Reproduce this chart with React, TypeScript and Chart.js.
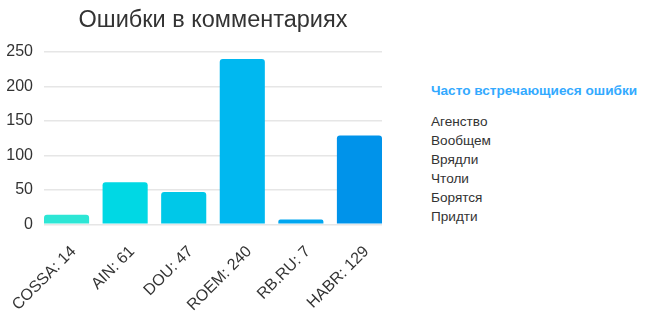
import React, { useEffect, useRef } from "react";
import { Chart, registerables } from "chart.js";

Chart.register(...registerables);

const TITLE = "Ошибки в комментариях";
const CATEGORIES = ["COSSA: 14", "AIN: 61", "DOU: 47", "ROEM: 240", "RB.RU: 7", "HABR: 129"];
const VALUES = [14, 61, 47, 240, 7, 129];
const COLORS = ["#2de6d5", "#00d8e4", "#00c8e8", "#00b8f0", "#00a6f0", "#0093ea"];
const Y_TICKS = [0, 50, 100, 150, 200, 250];
const PANEL_TITLE = "Часто встречающиеся ошибки";
const WORDS = ["Агенство", "Вообщем", "Врядли", "Чтоли", "Борятся", "Придти"];

const FONT = "'Liberation Sans', Arial, sans-serif";

const centeredTitle = {
  id: "centeredTitle",
  afterDraw(chart: any) {
    const { ctx, chartArea } = chart;
    ctx.save();
    ctx.fillStyle = "#333";
    ctx.font = `23.5px ${FONT}`;
    ctx.textAlign = "center";
    ctx.textBaseline = "alphabetic";
    ctx.fillText(TITLE, (chartArea.left + chartArea.right) / 2, 27);
    ctx.restore();
  },
};

export default function App() {
  const ref = useRef<HTMLCanvasElement | null>(null);

  useEffect(() => {
    if (!ref.current) return;
    const half = 0.385;
    const chart = new Chart(ref.current, {
      type: "bar",
      data: {
        datasets: [
          {
            data: VALUES.map((v, i) => ({ x: i, y: v })),
            backgroundColor: COLORS,
            borderRadius: 3,
            borderSkipped: "start",
            barPercentage: 1,
            categoryPercentage: 0.77,
          },
        ],
      },
      plugins: [centeredTitle],
      options: {
        animation: false,
        responsive: false,
        layout: { padding: { left: 5, right: 8, top: 52, bottom: 0 } },
        plugins: {
          legend: { display: false },
          tooltip: { enabled: false },
          title: { display: false },
        },
        scales: {
          x: {
            type: "linear",
            offset: false,
            min: -half,
            max: CATEGORIES.length - 1 + half,
            afterBuildTicks: (scale: any) => {
              scale.ticks = CATEGORIES.map((_, i) => ({ value: i }));
            },
            afterFit: (scale: any) => {
              scale.paddingLeft = 0;
              scale.paddingRight = 0;
            },
            grid: { display: false },
            border: { display: false },
            ticks: {
              autoSkip: false,
              minRotation: 45,
              maxRotation: 45,
              padding: 10,
              labelOffset: 7,
              color: "#333",
              font: { family: FONT, size: 16 },
              callback: (v: any) => CATEGORIES[v] ?? "",
            },
          },
          y: {
            min: Y_TICKS[0],
            max: Y_TICKS[Y_TICKS.length - 1],
            afterBuildTicks: (scale: any) => {
              scale.ticks = Y_TICKS.map((v) => ({ value: v }));
            },
            afterFit: (scale: any) => {
              scale.width = 39;
            },
            grid: { color: "#e6e6e6", lineWidth: 1.5, drawTicks: false },
            border: { display: false },
            ticks: {
              color: "#333",
              padding: 11,
              font: { family: FONT, size: 16 },
            },
          },
        },
      },
    } as any);
    return () => chart.destroy();
  }, []);

  return (
    <div style={{ position: "fixed", left: 0, top: 0, width: 650, height: 325, background: "#fff", fontFamily: FONT }}>
      <canvas ref={ref} width={390} height={325} style={{ position: "absolute", left: 0, top: 0 }} />
      <div style={{ position: "absolute", left: 431, top: 83 }}>
        <div style={{ color: "#33aaff", fontWeight: "bold", fontSize: 13.6, marginBottom: 14 }}>{PANEL_TITLE}</div>
        {WORDS.map((w) => (
          <div key={w} style={{ color: "#333", fontSize: 13.6, lineHeight: "19px" }}>{w}</div>
        ))}
      </div>
    </div>
  );
}
